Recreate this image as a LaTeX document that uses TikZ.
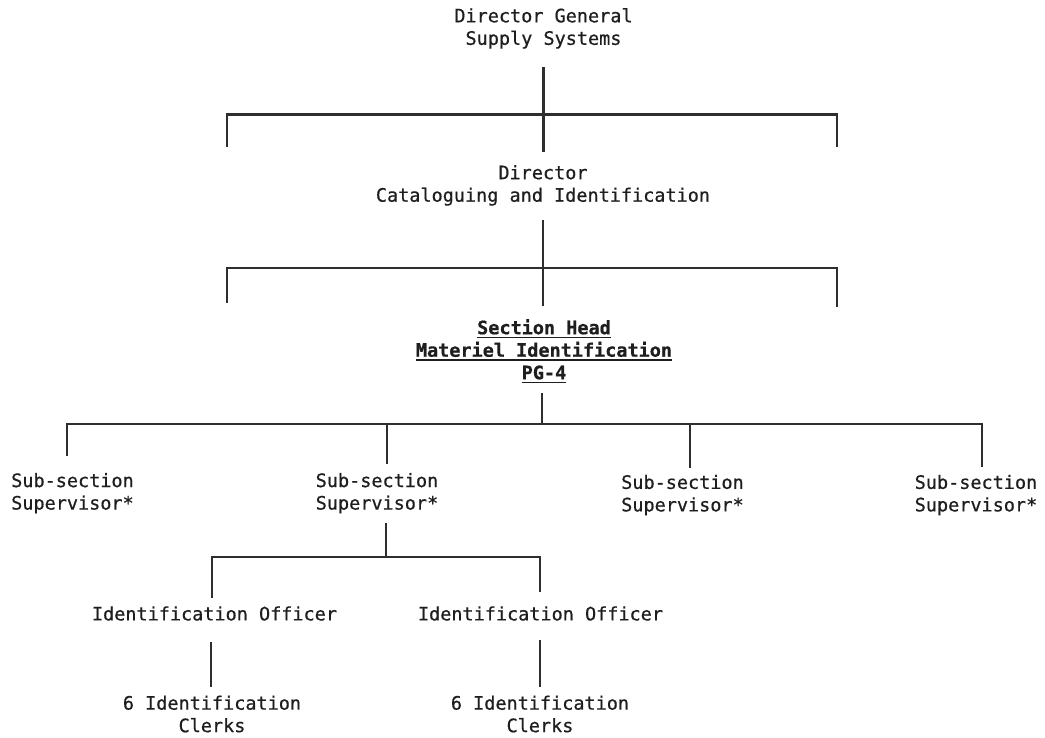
\documentclass[tikz,border=0pt]{standalone}
\usepackage{fontspec}
\newfontfamily\twfont[FakeBold=0.6]{DejaVu Sans Mono}
\newsavebox\ulbox
\newcommand\ulin[1]{\sbox\ulbox{#1}\rlap{\rule[-4.2pt]{\wd\ulbox}{1.8pt}}\usebox\ulbox}
\definecolor{ink}{HTML}{1E1E1E}
\definecolor{linec}{HTML}{2E2E2E}
\begin{document}
\begin{tikzpicture}[x=1pt,y=-1pt,
  txt/.style={font=\twfont\fontsize{18.5}{22.5}\selectfont, align=center, inner sep=0pt, text=ink},
  conn/.style={draw=linec, line width=2.2pt, line join=miter}]
\useasboundingbox[fill=white] (0,0) rectangle (1045,737);

% texts
\node[txt] (dg) at (543.5,28.4) {Director General\\Supply Systems};
\node[txt] (dir) at (543,185.4) {Director\\Cataloguing and Identification};
\node[txt,font=\twfont\bfseries\fontsize{18.5}{22.5}\selectfont] (sh) at (544,351.3)
  {\ulin{Section Head}\\\ulin{Materiel Identification}\\\ulin{PG-4}};
\node[txt] (s1) at (72.5,493.2) {Sub-section\\Supervisor*};
\node[txt] (s2) at (377,493.2) {Sub-section\\Supervisor*};
\node[txt] (s3) at (682.5,495) {Sub-section\\Supervisor*};
\node[txt] (s4) at (976,495) {Sub-section\\Supervisor*};
\node[txt] (o1) at (214.5,613.5) {Identification Officer};
\node[txt] (o2) at (540.5,613.5) {Identification Officer};
\node[txt] (c1) at (212,714) {6 Identification\\Clerks};
\node[txt] (c2) at (540,714) {6 Identification\\Clerks};

% connector coordinates
\coordinate (v1a) at (543.5,67);  \coordinate (v1b) at (543.5,152);
\coordinate (b1l) at (227,114.5); \coordinate (b1r) at (837,114.5);
\coordinate (b1ld) at (227,147);  \coordinate (b1rd) at (837,147);

\coordinate (v2a) at (543,220);   \coordinate (v2b) at (543,306);
\coordinate (b2l) at (227,268);   \coordinate (b2r) at (837,268);
\coordinate (b2ld) at (227,303);  \coordinate (b2rd) at (837,307);

\coordinate (v3a) at (542,393);   \coordinate (v3b) at (542,424);
\coordinate (b3l) at (67,424);    \coordinate (b3r) at (982,424);
\coordinate (b3ld) at (67,456);   \coordinate (b3rd) at (982,467);
\coordinate (b3m1) at (387,424);  \coordinate (b3m1d) at (387,464);
\coordinate (b3m2) at (690,424);  \coordinate (b3m2d) at (690,468);

\coordinate (v4a) at (386,523);   \coordinate (v4b) at (386,557);
\coordinate (b4l) at (212,557);   \coordinate (b4r) at (540,557);
\coordinate (b4ld) at (212,598);  \coordinate (b4rd) at (540,592);

\coordinate (v5a) at (211,642);   \coordinate (v5b) at (211,687);
\coordinate (v6a) at (540,640);   \coordinate (v6b) at (540,687);

% connectors
\draw[conn] (v1a) -- (v1b);
\draw[conn] (b1ld) -- (b1l) -- (b1r) -- (b1rd);
\draw[conn] (v2a) -- (v2b);
\draw[conn] (b2ld) -- (b2l) -- (b2r) -- (b2rd);
\draw[conn] (v3a) -- (v3b);
\draw[conn] (b3ld) -- (b3l) -- (b3r) -- (b3rd);
\draw[conn] (b3m1) -- (b3m1d);
\draw[conn] (b3m2) -- (b3m2d);
\draw[conn] (v4a) -- (v4b);
\draw[conn] (b4ld) -- (b4l) -- (b4r) -- (b4rd);
\draw[conn] (v5a) -- (v5b);
\draw[conn] (v6a) -- (v6b);
\end{tikzpicture}
\end{document}
